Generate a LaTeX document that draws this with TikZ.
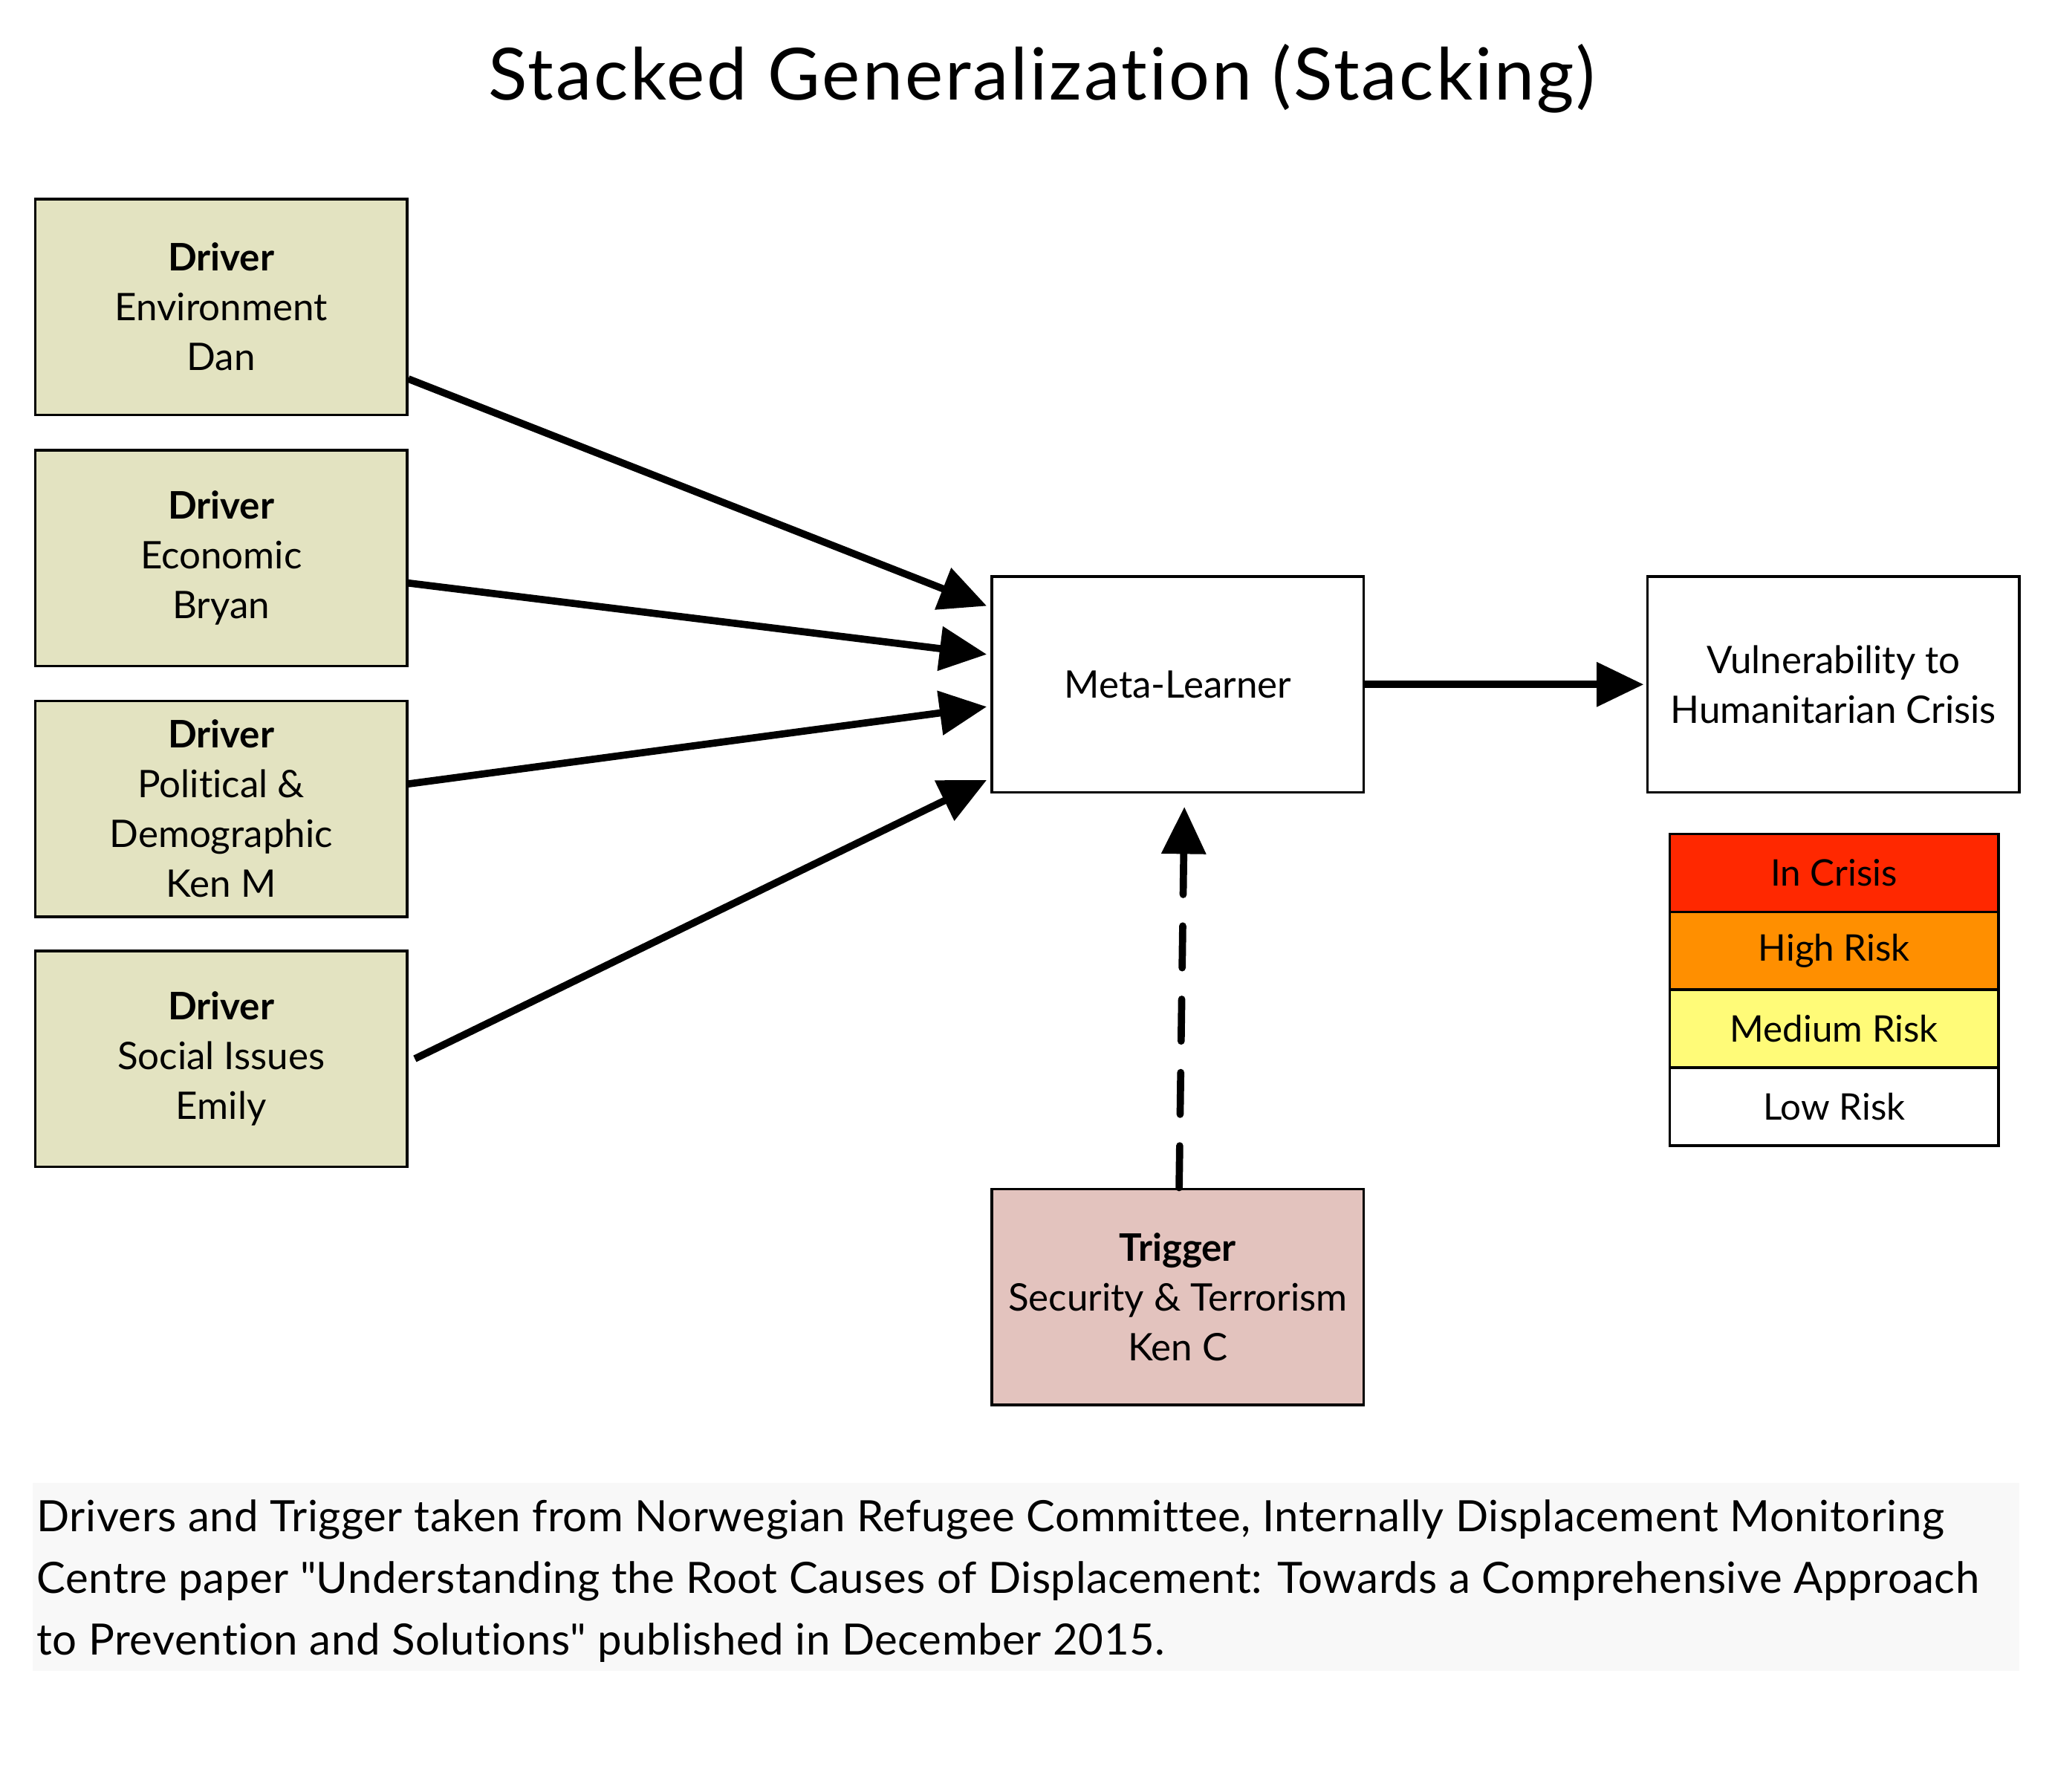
\documentclass[tikz,border=0pt]{standalone}
\usepackage{fontspec}
\setmainfont{Lato}[Ligatures={TeX,NoCommon}]
\usetikzlibrary{arrows.meta,positioning}
\definecolor{driverfill}{RGB}{227,227,193}
\definecolor{triggerfill}{RGB}{227,195,190}
\definecolor{crisisred}{RGB}{255,40,0}
\definecolor{highorange}{RGB}{255,143,0}
\definecolor{mediumyellow}{RGB}{255,251,120}
\definecolor{notegray}{RGB}{248,248,248}
\tikzset
{
  box/.style      = {rectangle, draw=black, line width=2pt, align=center, minimum width=284pt, minimum height=165pt, font=\fontsize{29}{38}\selectfont},
  driver/.style   = {box, fill=driverfill},
  trigger/.style  = {box, fill=triggerfill},
  legendrow/.style= {rectangle, draw=black, line width=2pt, outer sep=0pt, minimum width=251pt, minimum height=59.5pt, font=\fontsize{28}{34}\selectfont},
  flow/.style     = {line width=5.5pt, -{Triangle[length=36pt,width=33pt]}},
  dashflow/.style = {flow, line cap=round, dash pattern=on 32pt off 24pt}
}

\begin{document}
\begin{tikzpicture}[x=1pt,y=-1pt]
  \useasboundingbox (0,0) rectangle (1568,1369);
  \node (title) at (796,60) {\fontsize{55}{60}\selectfont\addfontfeature{LetterSpace=3}Stacked Generalization (Stacking)};

  % base learners
  \node [driver] (env)  at (169,234.5) {\textbf{Driver}\\Environment\\Dan};
  \node [driver] (econ) at (169,426.5) {\textbf{Driver}\\Economic\\Bryan};
  \node [driver] (pol)  at (169,618)   {\textbf{Driver}\\Political \&\\Demographic\\Ken M};
  \node [driver] (soc)  at (169,809)   {\textbf{Driver}\\Social Issues\\Emily};

  \node [box] (meta) at (900,523)  {Meta-Learner};
  \node [box] (vuln) at (1401,523) {Vulnerability to\\Humanitarian Crisis};
  \node [trigger] (trig) at (900,991) {\textbf{Trigger}\\Security \& Terrorism\\Ken C};

  % legend
  \node [legendrow, fill=crisisred]    (crisis) at (1401.5,667) {In Crisis};
  \node [legendrow, fill=highorange, below=0pt of crisis]  (high) {High Risk};
  \node [legendrow, fill=mediumyellow, below=0pt of high]  (medium) {Medium Risk};
  \node [legendrow, fill=white, below=0pt of medium]       (low) {Low Risk};

  \draw [flow] ([yshift=-55pt]env.east)  -- ([xshift=-3pt,yshift=60pt]meta.west);
  \draw [flow] ([yshift=-19pt]econ.east) -- ([xshift=-3pt,yshift=23pt]meta.west);
  \draw [flow] ([yshift=19pt]pol.east)   -- ([xshift=-3pt,yshift=-17pt]meta.west);
  \draw [flow] ([xshift=5pt]soc.east)    -- ([xshift=-3pt,yshift=-73pt]meta.west);
  \draw [flow] (meta.east) -- ([xshift=-2pt]vuln.west);
  \draw [dashflow] ([xshift=1pt]trig.north) -- ([xshift=5pt,yshift=-10pt]meta.south);

  % source note
  \fill [notegray] (25,1133) rectangle (1543,1277);
  \node [anchor=north west, inner sep=0pt, align=left, font=\fontsize{33}{47}\selectfont\addfontfeature{LetterSpace=1}] (source) at (28,1146)
    {Drivers and Trigger taken from Norwegian Refugee Committee, Internally Displacement Monitoring\\
     Centre paper \textquotedbl Understanding the Root Causes of Displacement: Towards a Comprehensive Approach\\
     to Prevention and Solutions\textquotedbl{} published in December 2015.};
\end{tikzpicture}
\end{document}
